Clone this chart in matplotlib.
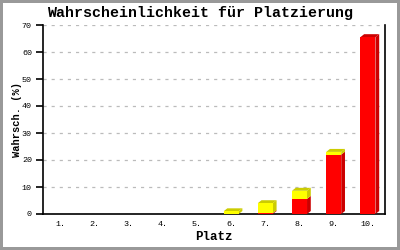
import numpy as np
import matplotlib.pyplot as plt
from matplotlib.patches import Polygon

# Data
places = [1, 2, 3, 4, 5, 6, 7, 8, 9, 10]
tick_labels = ['1.', '2.', '3.', '4.', '5.', '6.', '7.', '8.', '9.', '10.']
red_vals = [0, 0, 0, 0, 0, 0, 0.3, 5.6, 22.0, 65.5]
yellow_vals = [0, 0, 0, 0, 0, 1.0, 3.7, 3.0, 1.0, 0]

MONO = 'Liberation Mono'

fig = plt.figure(figsize=(4, 2.5), dpi=100)
fig.patch.set_facecolor('white')
fig.patch.set_edgecolor('#999999')
fig.patch.set_linewidth(3)
ax = fig.add_axes([0.1075, 0.144, 0.855, 0.756])

ax.set_xlim(0.5, 10.5)
ax.set_ylim(0, 70)

width = 0.44
dx = 0.11   # depth of the 3d side, in x units
dy = 1.1    # depth of the 3d top, in y units


def box(x, y0, y1, face, dark, top=True):
    if y1 - y0 <= 0:
        return
    l, r = x - width / 2, x + width / 2
    ax.add_patch(Polygon([(r, y0), (r + dx, y0 + dy), (r + dx, y1 + dy), (r, y1)],
                         closed=True, facecolor=dark, edgecolor='none', zorder=3))
    if top:
        ax.add_patch(Polygon([(l, y1), (l + dx, y1 + dy), (r + dx, y1 + dy), (r, y1)],
                             closed=True, facecolor=dark, edgecolor='none', zorder=3))
    ax.add_patch(plt.Rectangle((l, y0), width, y1 - y0, facecolor=face,
                               edgecolor='none', zorder=4))


for p, rv, yv in zip(places, red_vals, yellow_vals):
    box(p, 0, rv, '#ff0000', '#cc0000', top=(yv == 0))
    box(p, rv, rv + yv, '#ffff00', '#cccc00')

ax.set_yticks(np.arange(0, 71, 10))
ax.set_xticks(places)
ax.set_xticklabels(tick_labels)
ax.yaxis.grid(True, linestyle=(0, (2.5, 4)), color='#bbbbbb', linewidth=0.9)
ax.set_axisbelow(True)

ax.spines['top'].set_visible(False)
for s in ['left', 'bottom', 'right']:
    ax.spines[s].set_color('black')
    ax.spines[s].set_linewidth(1.2)

ax.tick_params(axis='y', direction='out', length=5, width=1.2, labelsize=6, pad=3)
ax.tick_params(axis='x', length=0, labelsize=6, pad=5)
for lab in ax.get_xticklabels() + ax.get_yticklabels():
    lab.set_family(MONO)

fig.suptitle('Wahrscheinlichkeit für Platzierung', family=MONO, fontweight='bold',
             fontsize=10.8, x=0.5, y=0.946, va='center')
ax.set_xlabel('Platz', family=MONO, fontweight='bold', fontsize=9, labelpad=2)
ax.set_ylabel('Wahrsch. (%)', family=MONO, fontweight='bold', fontsize=7.5, labelpad=0)

fig.savefig('out.png', dpi=100)
